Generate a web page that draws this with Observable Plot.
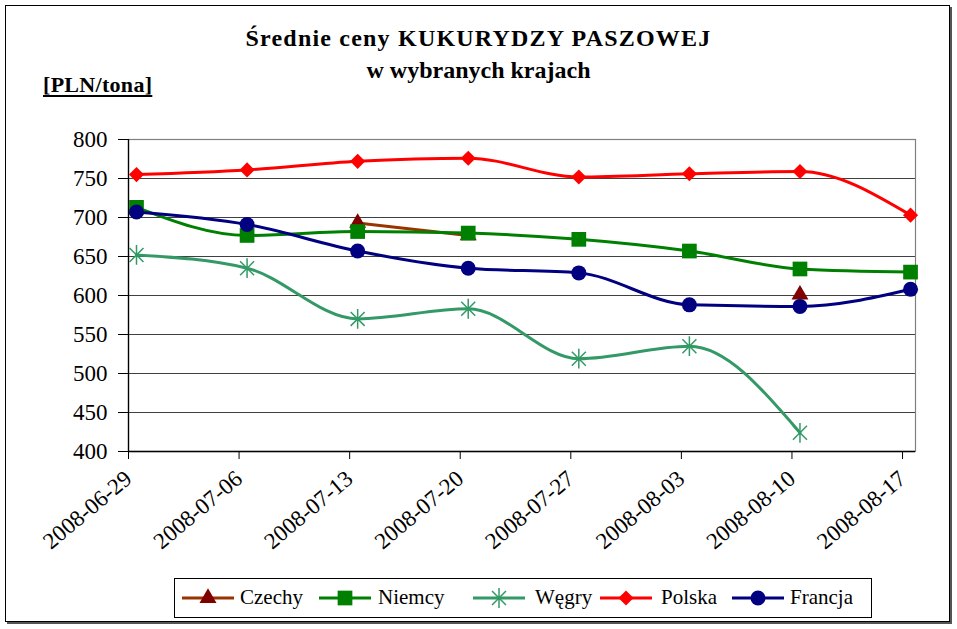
<!DOCTYPE html>
<html>
<head>
<meta charset="utf-8">
<script src="https://cdn.jsdelivr.net/npm/d3@7"></script>
<script src="https://cdn.jsdelivr.net/npm/@observablehq/plot@0.6"></script>
<style>
  html, body { margin: 0; padding: 0; background: #fff; }
  #wrap { position: relative; width: 957px; height: 629px; font-family: "Liberation Serif", Tinos, "Times New Roman", Times, "DejaVu Serif", serif; overflow: hidden; }
  #wrap svg.plot { position: absolute; left: 0; top: 0; }
  #border { position: absolute; left: 5px; top: 5px; width: 943px; height: 615px; border: 1.5px solid #000; box-shadow: 2px 2px 0 #555; pointer-events: none; }
  .title { position: absolute; left: 0; width: 957px; text-align: center; font-weight: bold; font-size: 24px; color: #000; white-space: nowrap; }
  #unit { position: absolute; left: 43px; top: 72px; font-weight: bold; font-size: 22px; letter-spacing: 0.3px; text-decoration: underline; text-decoration-thickness: 2px; text-underline-offset: 3px; }
  #legend { position: absolute; left: 174px; top: 578px; width: 698px; height: 40px; border: 1px solid #000; background: #fff; box-sizing: border-box; font-size: 21px; }
  .sw { position: absolute; top: 7px; }
  .lt { position: absolute; top: 6px; white-space: nowrap; }
</style>
</head>
<body>
<div id="wrap">
  <div class="title" style="top:25px; letter-spacing:1.2px">Średnie ceny KUKURYDZY PASZOWEJ</div>
  <div class="title" style="top:57px">w wybranych krajach</div>
  <div id="unit">[PLN/tona]</div>
  <div id="legend"></div>
  <div id="border"></div>
</div>
<script>
// ---- data ----
const dates = ["2008-06-29","2008-07-06","2008-07-13","2008-07-20","2008-07-27","2008-08-03","2008-08-10","2008-08-17"];
const tickLabels = ["2008-06-29","2008-07-06","2008-07-13","2008-07-20","2008-07-27","2008-08-03","2008-08-10","2008-08-17"];
const yTicks = [400, 450, 500, 550, 600, 650, 700, 750, 800];
const countries = ["Czechy", "Niemcy", "Węgry", "Polska", "Francja"];
const czechy  = [null, null, 693, 677, null, null, 601, null];
const niemcy  = [713, 677, 682, 680, 672, 657, 634, 630];
const wegry   = [652, 635, 570, 583, 519, 535, 424, null];
const polska  = [755, 761, 772, 776, 752, 756, 759, 703];
const francja = [707, 691, 657, 635, 629, 588, 586, 608];

const seriesValues = [czechy, niemcy, wegry, polska, francja];

const FONT = '"Liberation Serif", Tinos, "Times New Roman", Times, "DejaVu Serif", serif';

// ---- styles ----
const asteriskSym = {
  draw(ctx, size) {
    const r = Math.sqrt(size) * 0.62;
    const d = r * Math.SQRT1_2;
    ctx.moveTo(0, -r); ctx.lineTo(0, r);
    ctx.moveTo(-d, -d); ctx.lineTo(d, d);
    ctx.moveTo(-d, d); ctx.lineTo(d, -d);
  }
};
const styles = {
  "Czechy":  {line: "#993300", mark: "#800000", symbol: "triangle", r: 6.3, strokeMark: false},
  "Niemcy":  {line: "#008000", mark: "#008000", symbol: "square", r: 8.3, strokeMark: false},
  "Węgry":   {line: "#339966", mark: "#339966", symbol: asteriskSym, r: 9, strokeMark: true},
  "Polska":  {line: "#ff0000", mark: "#ff0000", symbol: "diamond2", r: 6.8, strokeMark: false},
  "Francja": {line: "#000080", mark: "#000080", symbol: "circle", r: 7.5, strokeMark: false}
};
// legend layout (swatch left, text left), relative to the legend box
const legendLayout = {
  "Czechy":  [6, 65],
  "Niemcy":  [143, 203],
  "Węgry":   [297, 360],
  "Polska":  [424, 486],
  "Francja": [556, 615]
};

const parse = d3.utcParse("%Y-%m-%d");
const fmt = d3.utcFormat("%Y-%m-%d");
const rows = [];
countries.forEach((c, i) => {
  seriesValues[i].forEach((v, j) => rows.push({country: c, date: parse(dates[j]), value: v}));
});

const markOffset = 8;
const marks = [
  Plot.ruleY(yTicks.slice(1), {y: d => d, stroke: "#000", strokeOpacity: 0.75, strokeWidth: 1}),
  Plot.frame({stroke: "#808080", strokeWidth: 1.2}),
  Plot.ruleY([400], {stroke: "#000", strokeWidth: 1.3}),
  Plot.axisY({ticks: yTicks, label: null, tickSize: 10, tickPadding: 11, fontSize: 23, stroke: "#000"}),
  Plot.axisX({ticks: tickLabels.map(parse), label: null, tickFormat: fmt, tickSize: 8, tickPadding: 16, tickRotate: -40, fontSize: 23}),
  Plot.ruleX([parse(tickLabels[0])], {stroke: "#000", strokeWidth: 1.3})
];
countries.forEach(c => {
  const s = styles[c];
  const data = rows.filter(d => d.country === c);
  marks.push(Plot.line(data, {x: "date", y: "value", stroke: s.line, strokeWidth: 3, curve: "monotone-x", dx: markOffset}));
  marks.push(Plot.dot(data.filter(d => d.value != null), s.strokeMark
    ? {x: "date", y: "value", symbol: () => s.symbol, r: s.r, fill: "none", stroke: s.mark, strokeWidth: 1.5, dx: markOffset}
    : {x: "date", y: "value", symbol: () => s.symbol, r: s.r, fill: s.mark, stroke: "none", dx: markOffset}));
});

const chart = Plot.plot({
  width: 957,
  height: 629,
  marginLeft: 128,
  marginRight: 42,
  marginTop: 139,
  marginBottom: 178,
  style: {fontFamily: FONT, fontSize: "22px", color: "#000", background: "transparent", overflow: "visible"},
  x: {type: "utc", domain: [parse(tickLabels[0]), new Date(parse(tickLabels[7]).getTime() + 0.82 * 864e5)], axis: null},
  y: {domain: [400, 800], axis: null},
  symbol: {type: "identity"},
  marks
});
chart.classList.add("plot");
const wrap = document.getElementById("wrap");
wrap.insertBefore(chart, wrap.firstChild);

// ---- legend ----
const legend = d3.select("#legend");
const symMap = {triangle: d3.symbolTriangle, square: d3.symbolSquare, diamond2: d3.symbolDiamond2, circle: d3.symbolCircle};
countries.forEach(c => {
  const s = styles[c];
  const [sx, tx] = legendLayout[c];
  const sw = legend.append("svg").attr("class", "sw").style("left", sx + "px").attr("width", 54).attr("height", 24);
  sw.append("line").attr("x1", 1).attr("x2", 53).attr("y1", 12).attr("y2", 12).attr("stroke", s.line).attr("stroke-width", 3);
  const size = Math.PI * s.r * s.r;
  const sym = typeof s.symbol === "string" ? symMap[s.symbol] : s.symbol;
  const p = sw.append("path").attr("transform", "translate(27,12)").attr("d", d3.symbol(sym, size)());
  if (s.strokeMark) p.attr("fill", "none").attr("stroke", s.mark).attr("stroke-width", 1.5);
  else p.attr("fill", s.mark);
  legend.append("div").attr("class", "lt").style("left", tx + "px").text(c);
});
</script>
</body>
</html>
